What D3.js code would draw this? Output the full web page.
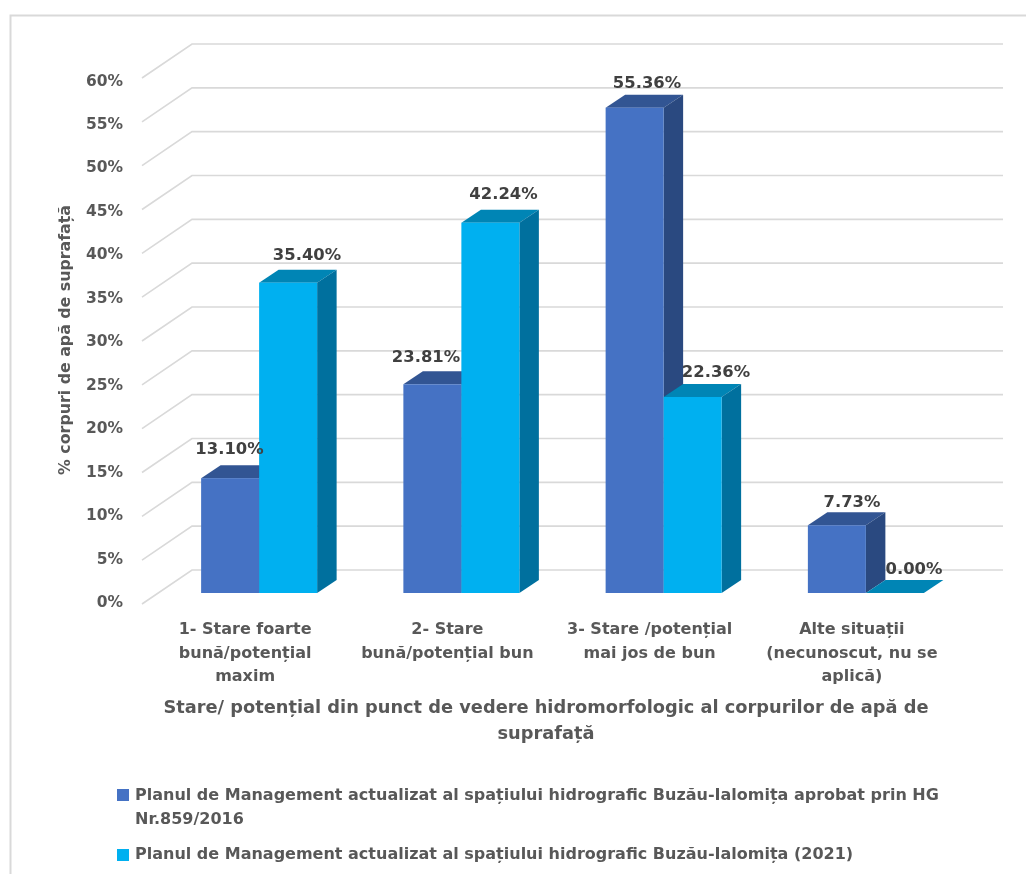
<!DOCTYPE html>
<html><head><meta charset="utf-8">
<script src="https://cdn.jsdelivr.net/npm/d3@7"></script>
<style>html,body{margin:0;background:#fff;overflow:hidden}svg{display:block}
text{font-family:"DejaVu Sans",sans-serif;font-weight:700;fill:#595959}</style></head>
<body><svg id="c" width="1026" height="874"></svg>
<script>
const categories=[["1- Stare foarte","bună/potențial","maxim"],["2- Stare","bună/potențial bun"],["3- Stare /potențial","mai jos de bun"],["Alte situații","(necunoscut, nu se","aplică)"]];
const seriesA=[13.10,23.81,55.36,7.73];
const seriesB=[35.40,42.24,22.36,0.00];
const seriesNames=[["Planul de Management actualizat al spațiului hidrografic Buzău-Ialomița aprobat prin HG","Nr.859/2016"],["Planul de Management actualizat al spațiului hidrografic Buzău-Ialomița (2021)"]];
const ticks=[0,5,10,15,20,25,30,35,40,45,50,55,60];
const yTitle="% corpuri de apă de suprafață";
const xTitle=["Stare/ potențial din punct de vedere hidromorfologic al corpurilor de apă de","suprafață"];
const colA={f:"#4472C4",t:"#335593",s:"#294A80"},colB={f:"#00B0F0",t:"#0085B5",s:"#006F9E"};

const svg0=d3.select("#c");
svg0.append("defs").append("filter").attr("id","soft").attr("filterUnits","userSpaceOnUse").attr("x",0).attr("y",0).attr("width",1026).attr("height",874)
  .append("feGaussianBlur").attr("stdDeviation",0.4);
const svg=svg0.append("g").attr("filter","url(#soft)");
svg.append("rect").attr("width",1026).attr("height",874).attr("fill","#fff");
svg.append("path").attr("d","M10.5,880V15.5H1030").attr("fill","none").attr("stroke","#d9d9d9").attr("stroke-width",2);

const y=d3.scaleLinear().domain([0,60]).range([604,78]);
const yLab=d3.scaleLinear().domain([0,60]).range([607,85.5]);
const floorDx=50,floorDy=-34;
const g=svg.append("g");
ticks.forEach(t=>{
  g.append("path").attr("d",`M142,${y(t)}L${142+floorDx},${y(t)+floorDy}H1003`).attr("fill","none").attr("stroke","#d9d9d9").attr("stroke-width",1.6);
  g.append("text").attr("x",123).attr("y",yLab(t)).attr("text-anchor","end").attr("font-size",15.5).text(t+"%");
});

const x0=d3.scaleBand().domain(d3.range(4)).range([150,959]);
const barW=58,base=593,dx=19.5,dy=-13;
const h=v=>y(0)-y(v);
function bar(i,k,v,c){
  const cx=x0(i)+x0.bandwidth()/2+8;
  const X=cx+(k-1)*barW, T=base-h(v);
  svg.append("path").attr("d",`M${X},${T}l${dx},${dy}h${barW}l${-dx},${-dy}z`).attr("fill",c.t);
  svg.append("path").attr("d",`M${X+barW},${T}l${dx},${dy}V${base+dy}l${-dx},${-dy}z`).attr("fill",c.s);
  svg.append("rect").attr("x",X).attr("y",T).attr("width",barW).attr("height",base-T).attr("fill",c.f);
}
d3.range(4).forEach(i=>{bar(i,0,seriesA[i],colA);bar(i,1,seriesB[i],colB);});
const labA=[[229.5,454],[426,362],[647,88],[852,507]],labB=[[307,260],[503.5,199],[716,377],[914,574]];
const fmt=v=>v.toFixed(2)+"%";
d3.range(4).forEach(i=>{
  svg.append("text").attr("x",labA[i][0]).attr("y",labA[i][1]).attr("text-anchor","middle").attr("font-size",16.4).style("fill","#404040").text(fmt(seriesA[i]));
  svg.append("text").attr("x",labB[i][0]).attr("y",labB[i][1]).attr("text-anchor","middle").attr("font-size",16.4).style("fill","#404040").text(fmt(seriesB[i]));
  categories[i].forEach((l,j)=>svg.append("text").attr("x",x0(i)+x0.bandwidth()/2-6).attr("y",634+j*23.5).attr("text-anchor","middle").attr("font-size",16).text(l));
});
svg.append("text").attr("transform","translate(70,340) rotate(-90)").attr("text-anchor","middle").attr("font-size",15.8).text(yTitle);
xTitle.forEach((l,j)=>svg.append("text").attr("x",546).attr("y",712.5+j*26.5).attr("text-anchor","middle").attr("font-size",17.8).text(l));
[[795,colA.f],[855,colB.f]].forEach(([yy,c],k)=>{
  svg.append("rect").attr("x",117).attr("y",yy-6).attr("width",12).attr("height",12).attr("fill",c);
  seriesNames[k].forEach((l,j)=>svg.append("text").attr("x",135).attr("y",yy+(k?4:5)+j*23.5).attr("font-size",16).text(l));
});
</script></body></html>
